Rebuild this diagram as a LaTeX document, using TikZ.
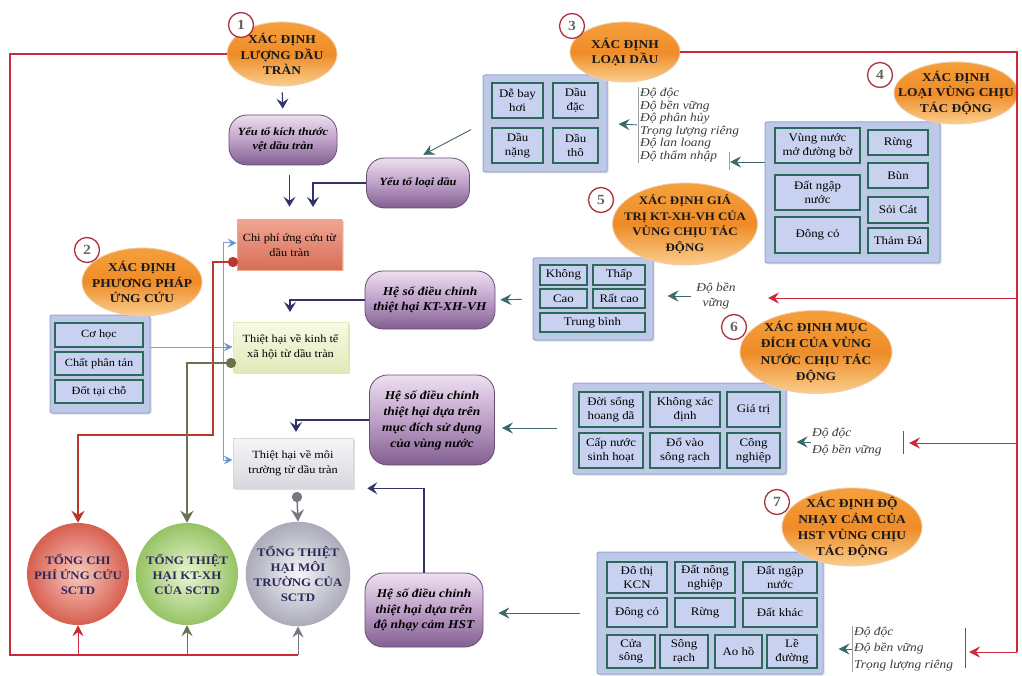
\documentclass[tikz,border=0pt]{standalone}
\usepackage{fontspec}
\setmainfont{Liberation Serif}[FakeStretch=1.12]
\usetikzlibrary{shapes.geometric,arrows.meta,shadows}
\definecolor{frameRed}{RGB}{205,40,55}
\definecolor{darkRed}{RGB}{185,55,45}
\definecolor{oliveL}{RGB}{105,115,80}
\definecolor{grayL}{RGB}{120,120,128}
\definecolor{blueL}{RGB}{120,160,210}
\definecolor{blueA}{RGB}{70,140,210}
\definecolor{navyA}{RGB}{50,52,105}
\definecolor{tealA}{RGB}{60,105,105}
\definecolor{ellTop}{RGB}{245,160,60}
\definecolor{ellMid}{RGB}{238,140,40}
\definecolor{ellBot}{RGB}{250,205,140}
\definecolor{ellDraw}{RGB}{240,205,170}
\definecolor{purTop}{RGB}{238,224,240}
\definecolor{purMid}{RGB}{190,160,200}
\definecolor{purBot}{RGB}{130,95,145}
\definecolor{purDraw}{RGB}{105,75,118}
\definecolor{panFill}{RGB}{190,201,232}
\definecolor{panDraw}{RGB}{150,168,215}
\definecolor{cellFill}{RGB}{200,210,240}
\definecolor{cellDraw}{RGB}{45,105,90}
\definecolor{boxATop}{RGB}{240,165,145}
\definecolor{boxABot}{RGB}{215,110,88}
\definecolor{boxBTop}{RGB}{248,250,228}
\definecolor{boxBBot}{RGB}{225,233,185}
\definecolor{boxCTop}{RGB}{246,246,248}
\definecolor{boxCBot}{RGB}{215,215,222}
\definecolor{ballR}{RGB}{215,95,80}
\definecolor{ballRin}{RGB}{248,200,190}
\definecolor{ballG}{RGB}{150,195,100}
\definecolor{ballGin}{RGB}{232,245,210}
\definecolor{ballC}{RGB}{170,170,185}
\definecolor{ballCin}{RGB}{245,245,248}
\definecolor{numRed}{RGB}{170,50,65}
\definecolor{ballText}{RGB}{45,40,90}
\definecolor{listText}{RGB}{60,60,60}
\newcommand\boxat[7]{\node[#1, minimum width={#5-#3}, minimum height={#6-#4}] (#2) at ({(#3+#5)/2},{(#4+#6)/2}) {#7};}
\begin{document}
\begin{tikzpicture}[x=1pt,y=-1pt,
  ell/.style={ellipse, draw=ellDraw, line width=0.8pt, top color=ellTop, bottom color=ellBot, middle color=ellMid, inner sep=0pt},
  elltext/.style={align=center, font=\bfseries\fontsize{12}{15.5}\selectfont, text=black!90, inner sep=0pt},
  numc/.style={circle, draw=numRed, line width=1.3pt, fill=white, minimum size=25pt, inner sep=0pt, font=\bfseries\fontsize{14}{14}\selectfont, text=black!60},
  purp/.style={rounded corners=18pt, draw=purDraw, line width=0.8pt, top color=purTop, bottom color=purBot, middle color=purMid, align=center, inner sep=1pt, font=\bfseries\itshape\fontsize{12}{15.5}\selectfont},
  panel/.style={draw=panDraw, line width=1pt, fill=panFill, rounded corners=2pt, drop shadow={opacity=0.25,shadow xshift=1.5pt,shadow yshift=-1.5pt}},
  cell/.style={draw=cellDraw, line width=1.4pt, fill=cellFill, inner sep=1pt, align=center, font=\fontsize{11.5}{13.5}\selectfont},
  cellm/.style={cell, font=\fontsize{11}{12}\selectfont},
  cbox/.style={line width=0.6pt, align=center, inner sep=1pt, font=\fontsize{11}{14.5}\selectfont, drop shadow={opacity=0.25,shadow xshift=1.5pt,shadow yshift=-1.5pt}},
  bxA/.style={cbox, draw=boxATop, top color=boxATop, bottom color=boxABot},
  bxB/.style={cbox, draw=boxBBot, top color=boxBTop, bottom color=boxBBot},
  bxC/.style={cbox, draw=boxCBot, top color=boxCTop, bottom color=boxCBot},
  ballnode/.style={circle, minimum size=102pt, inner sep=0pt, align=center, text=ballText, font=\bfseries\fontsize{11.5}{15}\selectfont},
  plist/.style={align=left, text=listText, inner sep=1pt},
  barline/.style={draw=gray!75, line width=0.8pt},
  redline/.style={draw=frameRed, line width=1.4pt},
  redarr/.style={draw=frameRed, line width=1pt, -{Stealth[length=11pt,width=11pt,inset=4pt]}},
  navarr/.style={draw=navyA, line width=1.1pt, -{Stealth[length=10pt,width=12pt,inset=4pt]}},
  tealarr/.style={draw=tealA, line width=0.9pt, -{Stealth[length=11pt,width=11pt,inset=4pt]}},
  bluearr/.style={draw=blueL, line width=1pt, -{Stealth[length=9pt,width=9pt,inset=3pt,fill=blueA]}},
  dotnode/.style={circle, inner sep=0pt, minimum size=10pt, fill=#1},
]
\fill[white] (0,0) rectangle (1022,676);
\useasboundingbox (0,0) rectangle (1022,676);

% ---------- panels and cells ----------
\boxat{panel}{p3}{483}{75}{607}{172}{}
\boxat{cell}{c31}{492}{83}{543}{118}{Dễ bay\\hơi}
\boxat{cell}{c32}{553}{83}{598}{118}{Dầu\\đặc}
\boxat{cell}{c33}{492}{128}{543}{163}{Dầu\\nặng}
\boxat{cell}{c34}{553}{128}{598}{163}{Dầu\\thô}

\boxat{panel}{p4}{765}{122}{940}{263}{}
\boxat{cell}{c41}{775}{128}{860}{163}{Vùng nước\\mở đường bờ}
\boxat{cell}{c42}{775}{175}{860}{210}{Đất ngập\\nước}
\boxat{cell}{c43}{775}{217}{860}{253}{Đông cỏ}
\boxat{cell}{c44}{868}{130}{928}{155}{Rừng}
\boxat{cell}{c45}{868}{163}{928}{188}{Bùn}
\boxat{cell}{c46}{868}{197}{928}{223}{Sỏi Cát}
\boxat{cell}{c47}{868}{228}{928}{253}{Thảm Đá}

\boxat{panel}{p5}{533}{258}{653}{340}{}
\boxat{cell}{c51}{540}{265}{587}{285}{Không}
\boxat{cell}{c52}{593}{265}{645}{285}{Thấp}
\boxat{cell}{c53}{540}{289}{587}{308}{Cao}
\boxat{cell}{c54}{593}{289}{645}{308}{Rất cao}
\boxat{cell}{c55}{540}{313}{645}{332}{Trung bình}

\boxat{panel}{p6}{573}{383}{786}{474}{}
\boxat{cell}{c61}{579}{392}{643}{427}{Đời sống\\hoang dã}
\boxat{cell}{c62}{650}{392}{720}{427}{Không xác\\định}
\boxat{cell}{c63}{727}{392}{780}{427}{Giá trị}
\boxat{cell}{c64}{579}{433}{643}{468}{Cấp nước\\sinh hoạt}
\boxat{cell}{c65}{650}{433}{720}{468}{Đổ vào\\sông rạch}
\boxat{cell}{c66}{727}{433}{780}{468}{Công\\nghiệp}

\boxat{panel}{p7}{597}{552}{823}{674}{}
\boxat{cell}{c71}{607}{562}{667}{593}{Đô thị\\KCN}
\boxat{cell}{c72}{675}{562}{735}{593}{Đất nông\\nghiệp}
\boxat{cell}{c73}{743}{562}{817}{593}{Đất ngập\\nước}
\boxat{cell}{c74}{607}{598}{667}{627}{Đông cỏ}
\boxat{cell}{c75}{675}{598}{735}{627}{Rừng}
\boxat{cell}{c76}{743}{598}{817}{627}{Đất khác}
\boxat{cell}{c77}{607}{635}{655}{668}{Cửa\\sông}
\boxat{cell}{c78}{660}{635}{708}{668}{Sông\\rạch}
\boxat{cell}{c79}{715}{635}{762}{668}{Ao hồ}
\boxat{cell}{c710}{767}{635}{817}{668}{Lề\\đường}

\boxat{panel}{pm}{50}{315}{150}{413}{}
\boxat{cellm}{cm1}{55}{323}{143}{347}{Cơ học}
\boxat{cellm}{cm2}{55}{352}{143}{375}{Chất phân tán}
\boxat{cellm}{cm3}{55}{380}{143}{403}{Đốt tại chỗ}

% ---------- centre boxes ----------
\boxat{bxA}{bA}{237}{220}{342}{270}{Chi phí ứng cứu từ\\dầu tràn}
\boxat{bxB}{bB}{233}{322}{348}{372}{Thiệt hại về kinh tế\\xã hội từ dầu tràn}
\boxat{bxC}{bC}{233}{438}{353}{488}{Thiệt hại về môi\\trường từ dầu tràn}

% ---------- totals ----------
\node[ballnode, inner color=ballRin, outer color=ballR] (c1) at (78,574) {TỔNG CHI\\PHÍ ỨNG CỨU\\SCTD};
\node[ballnode, inner color=ballGin, outer color=ballG] (c2) at (187,574) {TỔNG THIỆT\\HẠI KT-XH\\CỦA SCTD};
\node[ballnode, inner color=ballCin, outer color=ballC] (c3) at (298,574) {TỔNG THIỆT\\HẠI MÔI\\TRƯỜNG CỦA\\SCTD};

% ---------- ellipses ----------
\node[ell, minimum width=110pt, minimum height=64pt] (e1) at (282,54) {};
\node[elltext] (t1) at (e1) {XÁC ĐỊNH\\LƯỢNG DẦU\\TRÀN};
\node[ell, minimum width=120pt, minimum height=68pt] (e2) at (142,282) {};
\node[elltext] (t2) at (e2) {XÁC ĐỊNH\\PHƯƠNG PHÁP\\ỨNG CỨU};
\node[ell, minimum width=110pt, minimum height=60pt] (e3) at (625,52) {};
\node[elltext] (t3) at (e3) {XÁC ĐỊNH\\LOẠI DẦU};
\node[ell, minimum width=124pt, minimum height=62pt] (e4) at (956,93) {};
\node[elltext] (t4) at (e4) {XÁC ĐỊNH\\LOẠI VÙNG CHỊU\\TÁC ĐỘNG};
\node[ell, minimum width=145pt, minimum height=82pt] (e5) at (685,224) {};
\node[elltext, font=\bfseries\fontsize{11.5}{15.5}\selectfont] (t5) at (e5) {XÁC ĐỊNH GIÁ\\TRỊ KT-XH-VH CỦA\\VÙNG CHỊU TÁC\\ĐỘNG};
\node[ell, minimum width=152pt, minimum height=83pt] (e6) at (816,352) {};
\node[elltext, font=\bfseries\fontsize{12}{16.5}\selectfont] (t6) at (e6) {XÁC ĐỊNH MỤC\\ĐÍCH CỦA VÙNG\\NƯỚC CHỊU TÁC\\ĐỘNG};
\node[ell, minimum width=140pt, minimum height=78pt] (e7) at (852,527) {};
\node[elltext, font=\bfseries\fontsize{12}{16}\selectfont] (t7) at (e7) {XÁC ĐỊNH ĐỘ\\NHẠY CẢM CỦA\\HST VÙNG CHỊU\\TÁC ĐỘNG};

\node[numc] (n1) at (241,25) {1};
\node[numc] (n2) at (87,250) {2};
\node[numc] (n3) at (572,26) {3};
\node[numc] (n4) at (880,75) {4};
\node[numc] (n5) at (601,200) {5};
\node[numc] (n6) at (734,327) {6};
\node[numc] (n7) at (777,502) {7};

% ---------- purple factors ----------
\node[purp, minimum width=108pt, minimum height=50pt, font=\bfseries\itshape\fontsize{11}{14}\selectfont] (y1) at (283,140) {Yếu tố kích thước\\vệt dầu tràn};
\node[purp, minimum width=103pt, minimum height=50pt, font=\bfseries\itshape\fontsize{11}{14}\selectfont] (yl) at (418,183) {Yếu tố loại dầu};
\node[purp, minimum width=130pt, minimum height=58pt] (h1) at (430,300) {Hệ số điều chỉnh\\thiệt hại KT-XH-VH};
\node[purp, minimum width=125pt, minimum height=90pt, font=\bfseries\itshape\fontsize{12}{16}\selectfont] (h2) at (432,420) {Hệ số điều chỉnh\\thiệt hại dựa trên\\mục đích sử dụng\\của vùng nước};
\node[purp, minimum width=118pt, minimum height=74pt] (h3) at (424,610) {Hệ số điều chỉnh\\thiệt hại dựa trên\\độ nhạy cảm HST};

% ---------- property lists ----------
\node[plist, anchor=west, font=\itshape\fontsize{12}{12.5}\selectfont] (pl3) at (639,125) {Độ độc\\Độ bền vững\\Độ phân hủy\\Trọng lượng riêng\\Độ lan loang\\Độ thẩm nhập};
\node[plist, align=center, font=\itshape\fontsize{12}{15}\selectfont] (pl5) at (716,296) {Độ bền\\vững};
\node[plist, anchor=west, font=\itshape\fontsize{12}{17}\selectfont] (pl6) at (811,442) {Độ độc\\Độ bền vững};
\node[plist, anchor=west, font=\itshape\fontsize{12}{16.5}\selectfont] (pl7) at (853,649) {Độ độc\\Độ bền vững\\Trọng lượng riêng};

% ---------- helper coordinates ----------
\coordinate (kBL) at (10,655);
\coordinate (kR1) at (1017,298);
\coordinate (kR2) at (1017,443);
\coordinate (kR3) at (1017,652);
\coordinate (r5tip) at (768,298);
\coordinate (r6tip) at (909,443);
\coordinate (r7tip) at (969,652);
\coordinate (b3r) at (729,162);
\coordinate (aT2) at (313,207);
\coordinate (aB) at (290,312);
\coordinate (aC) at (296,432);
\coordinate (kRed) at (213,435);
\coordinate (bl1) at (223,243);
\coordinate (bl2) at (223,347);
\coordinate (bl3) at (223,460);

% ---------- frame lines ----------
\draw[redline] (e1.west) -| (kBL) -- (kBL -| c3.south);
\draw[redarr] (kBL -| c1.south) -- (c1.south);
\draw[draw=oliveL, line width=1pt, -{Stealth[length=11pt,width=11pt,inset=4pt]}] (kBL -| c2.south) -- (c2.south);
\draw[draw=grayL, line width=1pt, -{Stealth[length=11pt,width=11pt,inset=4pt]}] (kBL -| c3.south) -- (c3.south);
\draw[redline] (e3.east) -| (kR3);
\draw[redarr] (kR1) -- (r5tip);
\draw[redarr] (kR2) -- (r6tip);
\draw[redarr] (kR3) -- (r7tip);
\draw[draw=frameRed, line width=0.8pt] ([xshift=-6pt,yshift=12pt]r6tip) -- ([xshift=-6pt,yshift=-11pt]r6tip);
\draw[draw=frameRed, line width=0.8pt] ([xshift=-4pt,yshift=24pt]r7tip) -- ([xshift=-4pt,yshift=-16pt]r7tip);

% ---------- blue input lines ----------
\draw[draw=blueL, line width=1pt] (pm.east |- bl2) -- (bl2);
\draw[draw=blueL, line width=1pt] (bl1) -- (bl3);
\draw[bluearr] (bl1) -- (bl1 -| bA.west);
\draw[bluearr] (bl2) -- (bl2 -| bB.west);
\draw[bluearr] (bl3) -- (bl3 -| bC.west);

% ---------- totals connectors ----------
\node[dotnode=darkRed] (dA) at (233,262) {};
\node[dotnode=oliveL] (dB) at (231,363) {};
\node[dotnode=grayL] (dC) at (297,497) {};
\draw[draw=darkRed, line width=2pt, -{Stealth[length=12pt,width=13pt,inset=4pt]}] (dA.center) -| (kRed) -| (c1.north);
\draw[draw=oliveL, line width=2pt, -{Stealth[length=12pt,width=13pt,inset=4pt]}] (dB.center) -| (c2.north);
\draw[draw=grayL, line width=1.5pt, -{Stealth[length=12pt,width=13pt,inset=4pt]}] (dC.center) -- (c3.north);
\node[dotnode=darkRed] at (dA) {};
\node[dotnode=oliveL] at (dB) {};
\node[dotnode=grayL] at (dC) {};

% ---------- navy arrows ----------
\draw[navarr, shorten <=6pt, shorten >=6pt] (e1.south) -- (y1.north);
\draw[navarr, shorten <=10pt, shorten >=13pt] (y1.south -| bA.north) -- (bA.north);
\draw[navarr] (yl.west) -| (aT2);
\draw[navarr] (h1.west) -| (aB);
\draw[navarr] (h2.west) -| (aC);
\draw[navarr, shorten >=14pt] (h3.north) |- (bC.south east);

% ---------- teal arrows ----------
\draw[tealarr, shorten <=13pt, shorten >=6pt] (p3.west) -- (yl.north);
\draw[tealarr, shorten <=2pt, shorten >=11pt] (pl3.west) -- (p3.east);
\draw[barline] ([xshift=-1pt]pl3.north west) -- ([xshift=-1pt]pl3.south west);
\draw[tealarr, shorten >=1pt] (p4.west |- b3r) -- (b3r);
\draw[barline] ([yshift=10pt]b3r) -- ([yshift=-8pt]b3r);
\draw[tealarr, shorten <=4pt, shorten >=14pt] (pl5.west) -- (pl5.west -| p5.east);
\draw[tealarr, shorten <=11pt, shorten >=5pt] (p5.west) -- (h1.east);
\draw[tealarr, shorten >=10pt] (pl6.west) -- (pl6.west -| p6.east);
\draw[tealarr, shorten <=16pt, shorten >=7pt] (p6.west |- 0,428) -- (h2.east |- 0,428);
\draw[tealarr, shorten >=15pt] (pl7.west) -- (pl7.west -| p7.east);
\draw[barline] ([xshift=-1pt]pl7.north west) -- ([xshift=-1pt]pl7.south west);
\draw[tealarr, shorten <=17pt, shorten >=15pt] (p7.west) -- (p7.west -| h3.east);
\end{tikzpicture}
\end{document}
